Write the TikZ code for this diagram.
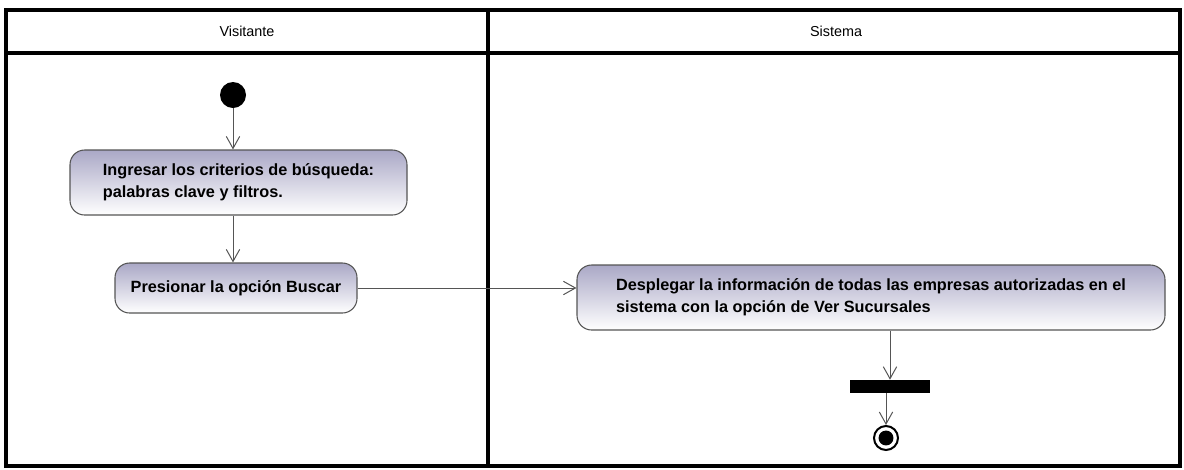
\documentclass[tikz,border=0pt]{standalone}
\usepackage{fontspec}
\setmainfont{Liberation Sans}
\usetikzlibrary{arrows.meta}
\definecolor{lanegray}{RGB}{170,168,198}
\definecolor{edgegray}{RGB}{85,85,85}
\begin{document}
\begin{tikzpicture}[x=0.75pt,y=-0.75pt,
  act/.style={draw=edgegray, line width=0.8pt, rounded corners=11pt,
    top color=lanegray, bottom color=white,
    font=\bfseries\fontsize{12.2}{16.5}\selectfont, align=left, inner sep=0pt},
  flow/.style={draw=edgegray, line width=0.75pt, -{Straight Barb[length=9pt,width=10pt]}},
  frameline/.style={line width=3pt, line cap=rect},
  lanehead/.style={font=\fontsize{10.8}{12}\selectfont},
  initnode/.style={circle, fill=black, minimum size=19.5pt, inner sep=0pt},
  barnode/.style={fill=black, minimum width=60pt, minimum height=9.75pt, inner sep=0pt},
  finnode/.style={circle, draw=black, line width=1.5pt, fill=white, minimum size=18pt, inner sep=0pt,
    path picture={\fill[black] (path picture bounding box.center) circle (5.6pt);}}]
\useasboundingbox (0,0) rectangle (1184,469);
% frame
\draw[frameline] (6,10) rectangle (1180,466);
\draw[frameline] (6,53) -- (1180,53);
\draw[frameline] (488,10) -- (488,466);
\node[lanehead] (hv) at (247,31) {Visitante};
\node[lanehead] (hs) at (836,31) {Sistema};
% nodes
\node[initnode] (init) at (233,95) {};
\node[act, minimum width=252.75pt, minimum height=48.75pt] (a1) at (238.5,182.5)
  {Ingresar los criterios de búsqueda:\\palabras clave y filtros.};
\node[act, minimum width=181.5pt, minimum height=37.5pt] (a2) at (236,288)
  {Presionar la opción Buscar};
\node[act, minimum width=441pt, minimum height=48.75pt] (a3) at (871,297.5)
  {Desplegar la información de todas las empresas autorizadas en el\\sistema con la opción de Ver Sucursales};
\node[barnode] (bar) at (890,386.5) {};
\node[finnode] (fin) at (886,438) {};
% connectors
\draw[flow] (init) -- (init |- a1.north);
\draw[flow] (a1.south -| init) -- (a2.north -| init);
\draw[flow] (a2.east) -- (a2.east -| a3.west);
\draw[flow] (bar.north |- a3.south) -- (bar.north);
\draw[flow] (bar.south -| fin) -- (fin.north);
\end{tikzpicture}
\end{document}
